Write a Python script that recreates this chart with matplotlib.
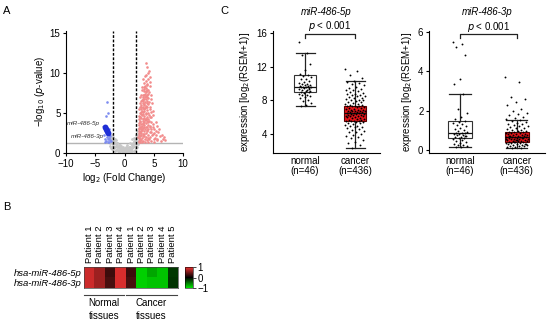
import matplotlib
matplotlib.use("Agg")
import matplotlib.pyplot as plt
from matplotlib.colors import LinearSegmentedColormap
import numpy as np

plt.rcParams['font.family'] = ['Liberation Sans', 'DejaVu Sans']
plt.rcParams['font.size'] = 7

# ---- panel A: volcano plot (log2 FC, -log10 p) ----
red_pts = [(2.4, 1.5), (2.6, 1.8), (2.8, 1.6), (3.0, 1.9), (3.2, 1.5), (3.5, 1.7), (3.8, 1.6), (4.2, 1.8),
           (4.6, 1.5), (5.1, 1.7), (5.6, 1.6), (6.2, 1.5), (2.3, 2.0), (2.5, 2.3), (2.7, 2.6), (2.9, 2.8),
           (3.1, 2.4), (3.3, 2.7), (3.6, 2.5), (3.9, 2.9), (4.3, 2.6), (4.8, 2.4), (5.4, 2.2), (6.0, 2.1),
           (2.5, 3.1), (2.6, 3.2), (2.8, 3.6), (3.0, 3.4), (3.2, 3.8), (3.4, 3.3), (3.7, 3.7), (4.0, 3.5),
           (4.4, 3.2), (5.0, 3.0), (2.7, 4.0), (2.9, 4.4), (3.1, 4.2), (3.3, 4.6), (3.5, 4.1), (3.8, 4.5),
           (4.1, 4.3), (4.5, 3.9), (2.8, 4.9), (3.0, 5.3), (3.2, 5.1), (3.4, 5.5), (3.6, 5.0), (3.9, 5.4),
           (4.2, 4.8), (2.9, 5.8), (3.1, 6.2), (3.3, 6.0), (3.5, 6.4), (3.7, 5.7), (4.0, 6.1), (4.3, 5.5),
           (3.0, 6.6), (3.2, 7.0), (3.4, 6.7), (3.6, 7.1), (3.8, 6.5), (4.1, 6.9), (3.1, 7.3), (3.3, 7.7),
           (3.5, 7.4), (3.7, 7.8), (3.9, 7.2), (4.2, 7.6), (3.3, 8.0), (3.5, 8.4), (3.7, 8.1), (3.9, 8.5),
           (4.1, 7.9), (3.4, 8.7), (3.6, 9.0), (3.8, 8.6), (4.0, 9.2), (3.7, 9.8), (4.0, 10.0), (3.7, 11.2),
           (4.3, 9.5), (6.8, 2.0), (5.9, 3.0), (4.8, 4.8), (2.4, 1.4), (2.6, 2.1), (2.8, 2.2), (3.0, 2.9),
           (3.2, 3.1), (3.4, 3.9), (3.6, 4.3), (3.8, 4.0), (3.0, 4.7), (3.3, 5.3), (3.6, 5.9), (3.8, 6.3),
           (3.2, 6.5), (3.5, 7.0), (3.6, 7.6), (3.9, 7.0), (3.4, 6.1), (3.1, 5.6), (2.9, 5.1), (2.7, 4.5),
           (2.6, 3.9), (2.5, 2.8), (2.4, 2.5), (3.7, 2.0), (4.0, 2.3), (4.4, 2.0), (4.6, 3.0), (4.1, 3.0),
           (3.5, 3.0), (2.9, 3.2), (3.1, 3.6), (3.4, 4.4), (3.7, 4.9), (4.0, 5.0), (3.5, 5.6), (3.2, 4.9),
           (3.9, 3.3), (4.2, 4.0), (2.7, 1.4), (3.3, 2.1), (5.3, 2.8), (4.5, 6.8), (3.0, 7.9), (4.4, 8.4),
           (2.4, 3.5), (2.5, 4.2), (2.6, 5.0), (2.7, 5.8), (2.8, 6.5), (2.9, 7.2), (3.0, 8.3), (2.5, 5.5),
           (2.4, 4.6), (2.6, 6.3), (2.7, 7.0), (4.4, 5.8), (4.6, 4.5), (4.8, 3.6), (5.0, 2.5), (5.2, 1.9),
           (4.7, 6.2), (4.5, 7.2), (4.9, 5.2), (5.3, 3.9), (5.5, 1.8), (5.8, 2.6), (4.3, 8.9), (3.2, 9.3),
           (3.5, 9.6), (4.2, 10.3), (3.9, 10.8), (2.5, 1.9), (2.8, 2.5), (3.1, 2.1), (3.4, 2.4), (3.8, 2.7),
           (4.1, 1.9), (4.7, 2.2), (5.0, 1.4), (4.0, 1.4), (3.5, 1.4), (3.0, 1.35), (3.0, 3.0), (3.3, 3.5),
           (3.6, 3.2), (4.0, 3.9), (4.3, 4.5), (4.5, 5.1), (3.9, 5.8), (4.2, 6.4), (4.0, 7.4), (3.8, 7.9),
           (3.4, 8.2), (3.2, 5.8), (2.9, 6.0), (2.8, 5.5), (3.1, 4.0), (2.8, 3.0), (3.7, 4.2), (4.4, 3.4),
           (3.6, 6.7), (3.3, 7.2), (3.1, 6.8), (2.6, 4.5), (2.4, 3.0), (2.5, 3.7), (4.6, 2.6), (4.9, 3.2),
           (5.6, 3.4), (6.4, 2.3), (6.6, 1.7), (7.0, 1.6)]
gray_pts = [(-2.4, 1.8), (-2.2, 1.2), (-2.0, 0.9), (-1.8, 1.5), (-1.6, 0.7), (-1.5, 1.1), (-1.3, 0.5),
            (-1.2, 0.9), (-1.0, 0.4), (-0.9, 0.7), (-0.7, 0.3), (-0.6, 0.5), (-0.4, 0.2), (-0.3, 0.4),
            (-0.1, 0.1), (0.0, 0.3), (0.2, 0.15), (0.3, 0.4), (0.5, 0.2), (0.6, 0.6), (0.8, 0.35),
            (0.9, 0.8), (1.1, 0.5), (1.2, 1.0), (1.4, 0.7), (1.5, 1.3), (1.7, 0.9), (1.8, 1.6), (2.0, 1.1),
            (2.1, 2.0), (2.2, 0.8), (1.9, 2.3), (1.6, 1.9), (-1.9, 2.0), (-2.1, 0.5), (-1.4, 1.6),
            (-0.8, 1.0), (0.4, 0.8), (1.0, 1.2), (1.3, 1.7), (0.7, 0.1), (-0.5, 0.05), (-1.1, 0.2),
            (1.6, 0.3), (2.3, 1.5), (-2.3, 0.6), (0.1, 0.6), (-0.2, 0.7), (2.4, 2.4), (-2.6, 2.6),
            (1.8, 0.4), (-1.7, 0.3), (0.9, 0.05), (-0.9, 0.1), (-2.2, 2.2), (2.2, 2.7), (-1.5, 0.4),
            (1.3, 0.3), (-0.6, 0.9), (0.5, 1.0), (-1.2, 1.3), (1.7, 1.3), (-2.0, 1.6), (2.0, 0.6),
            (-2.8, 2.9), (-2.7, 2.2), (-2.5, 1.3), (-2.5, 0.9), (-2.3, 1.9), (-2.1, 1.4), (-1.9, 1.1),
            (-1.7, 1.8), (-1.6, 1.2), (-1.4, 0.9), (-1.3, 1.2), (-1.1, 0.7), (-1.0, 1.0), (-0.8, 0.6),
            (-0.7, 0.8), (-0.5, 0.4), (-0.4, 0.6), (-0.2, 0.3), (0.0, 0.1), (0.1, 0.4), (0.3, 0.2),
            (0.4, 0.5), (0.6, 0.3), (0.7, 0.7), (0.9, 0.5), (1.0, 0.8), (1.2, 0.6), (1.3, 1.1), (1.5, 0.9),
            (1.6, 1.5), (1.8, 1.2), (1.9, 1.8), (2.1, 1.4), (2.2, 1.9), (2.3, 1.1), (2.5, 2.0), (2.6, 1.6),
            (2.7, 2.3), (-2.6, 1.9), (-1.8, 0.6), (1.1, 0.2), (-0.3, 0.15), (0.2, 0.7), (-0.1, 0.5)]
blue_pts = [(-3.0, 6.4), (-3.2, 4.6), (-2.9, 5.0), (-2.6, 3.0), (-2.7, 1.9), (-2.9, 1.7), (-3.1, 1.5),
            (-2.5, 1.6), (-2.8, 1.4), (-3.3, 1.8), (-2.4, 2.1), (-3.5, 2.2), (-2.6, 1.35), (-3.0, 2.0),
            (-2.3, 1.5), (-3.4, 1.4)]
mir486_pts = [(-3.4, 3.3), (-3.2, 3.05), (-2.95, 2.75), (-2.75, 2.5)]

fc_cut = 2
p_cut = 1.3

# ---- panel B: heatmap (z-scores) ----
hm_rows = ['hsa-miR-486-5p', 'hsa-miR-486-3p']
hm_cols = ['Patient 1', 'Patient 2', 'Patient 3', 'Patient 4',
           'Patient 1', 'Patient 2', 'Patient 3', 'Patient 4', 'Patient 5']
hm_vals = [[0.85, 0.65, 0.25, 0.9, 0.25, -0.9, -0.72, -0.85, -0.25],
           [0.85, 0.65, 0.3, 0.9, 0.3, -0.9, -0.85, -0.85, -0.22]]

# ---- panel C: expression boxplots ----
groups = ['normal\n(n=46)', 'cancer\n(n=436)']
normal_5p = [15.0, 13.7, 13.4, 12.3, 11.6, 11.2, 11.0, 10.9, 10.8, 10.6, 10.5, 10.3, 10.2, 10.1, 10.0,
             9.9, 9.85, 9.8, 9.75, 9.7, 9.65, 9.6, 9.6, 9.55, 9.5, 9.45, 9.4, 9.3, 9.2, 9.15, 9.1, 9.0,
             8.95, 8.9, 8.8, 8.7, 8.6, 8.5, 8.4, 8.3, 8.1, 7.9, 7.7, 7.5, 7.3, 9.35]
cancer_5p = [11.8, 11.5, 11.0, 10.7, 10.3, 10.2, 10.1, 9.9, 9.8, 9.6, 9.5, 9.4, 9.3, 9.2, 9.1, 9.0, 8.9,
             8.8, 8.8, 8.7, 8.6, 8.5, 8.5, 8.4, 8.3, 8.3, 8.2, 8.1, 8.0, 8.0, 7.9, 7.8, 7.8, 7.7, 7.6,
             7.6, 7.5, 7.5, 7.4, 7.4, 7.3, 7.3, 7.2, 7.2, 7.1, 7.1, 7.0, 7.0, 6.9, 6.9, 6.9, 6.8, 6.8,
             6.7, 6.7, 6.7, 6.6, 6.6, 6.6, 6.5, 6.5, 6.5, 6.4, 6.4, 6.4, 6.3, 6.3, 6.3, 6.2, 6.2, 6.1,
             6.1, 6.0, 6.0, 5.9, 5.9, 5.8, 5.8, 5.7, 5.7, 5.6, 5.6, 5.5, 5.5, 5.4, 5.4, 5.3, 5.3, 5.2,
             5.1, 5.0, 5.0, 4.9, 4.8, 4.7, 4.6, 4.5, 4.4, 4.3, 4.2, 4.0, 3.9, 3.8, 3.6, 3.5, 3.3, 3.1,
             2.9, 2.7, 2.4]
normal_3p = [5.5, 5.4, 5.25, 4.85, 3.6, 3.35, 2.85, 2.1, 1.9, 1.7, 1.6, 1.5, 1.45, 1.4, 1.3, 1.25, 1.2,
             1.1, 1.05, 1.0, 0.95, 0.9, 0.88, 0.85, 0.85, 0.82, 0.8, 0.78, 0.75, 0.7, 0.68, 0.65, 0.62,
             0.6, 0.55, 0.5, 0.45, 0.4, 0.35, 0.3, 0.28, 0.25, 0.2, 0.18, 0.15, 0.72]
cancer_3p = [3.7, 3.45, 2.7, 2.6, 2.45, 2.3, 2.1, 2.0, 1.9, 1.85, 1.8, 1.7, 1.65, 1.6, 1.55, 1.5, 1.45,
             1.4, 1.35, 1.3, 1.25, 1.2, 1.2, 1.15, 1.1, 1.1, 1.05, 1.0, 1.0, 0.98, 0.95, 0.92, 0.9, 0.9,
             0.88, 0.85, 0.85, 0.82, 0.8, 0.8, 0.78, 0.75, 0.75, 0.72, 0.7, 0.7, 0.68, 0.66, 0.65, 0.65,
             0.64, 0.62, 0.6, 0.6, 0.58, 0.56, 0.55, 0.54, 0.52, 0.5, 0.5, 0.48, 0.46, 0.45, 0.44, 0.42,
             0.4, 0.4, 0.38, 0.36, 0.35, 0.33, 0.3, 0.3, 0.28, 0.26, 0.25, 0.22, 0.2, 0.2, 0.18, 0.15,
             0.12, 0.1, 0.3, 0.5, 0.7, 0.6, 0.4, 0.55]
# box stats: (whislo, q1, med, q3, whishi) per group
box_5p = [(7.3, 9.0, 9.6, 11.0, 13.7), (2.4, 5.5, 6.5, 7.4, 10.3)]
box_3p = [(0.15, 0.6, 0.85, 1.5, 2.85), (0.1, 0.4, 0.65, 0.9, 1.55)]

fig = plt.figure(figsize=(5.5, 3.22), dpi=100)

# ---------- A ----------
ax = fig.add_axes([66/550, 1-153/322, 117/550, 122.3/322])
rx, ry = zip(*red_pts)
gx, gy = zip(*gray_pts)
bx, by = zip(*blue_pts)
mx, my = zip(*mir486_pts)
ax.scatter(gx, gy, s=4, color='#c8c8c8', linewidths=0, zorder=2)
ax.scatter(rx, ry, s=3.5, color='#f28c8c', linewidths=0, zorder=2)
ax.scatter(bx, by, s=3.5, color='#7d8cf0', linewidths=0, zorder=2)
ax.scatter(mx, my, s=18, color='#1f2fd6', linewidths=0, zorder=4)
ax.axhline(p_cut, color='#b4b4b4', lw=1, zorder=1)
ax.axvline(-fc_cut, color='black', ls=(0, (2, 1.2)), lw=1, zorder=3)
ax.axvline(fc_cut, color='black', ls=(0, (2, 1.2)), lw=1, zorder=3)
ax.annotate('miR-486-5p', xy=mir486_pts[0], xytext=(-4.2, 3.7), fontsize=4.6, style='italic',
            ha='right', va='center', color='#333333',
            arrowprops=dict(arrowstyle='-', lw=0.4, color='#555555', shrinkA=0, shrinkB=1))
ax.annotate('miR-486-3p', xy=mir486_pts[3], xytext=(-3.5, 2.05), fontsize=4.6, style='italic',
            ha='right', va='center', color='#333333',
            arrowprops=dict(arrowstyle='-', lw=0.4, color='#555555', shrinkA=0, shrinkB=1))
ax.set_xlim(-10, 10)
ax.set_ylim(0, 15.3)
ax.set_xticks([-10, -5, 0, 5, 10])
ax.set_yticks([0, 5, 10, 15])
ax.set_xlabel('log$_2$ (Fold Change)', labelpad=2)
ax.set_ylabel('\u2212log$_{10}$ ($p$-value)', labelpad=2)
ax.spines[['top', 'right']].set_visible(False)
ax.tick_params(length=2.5, width=0.8, pad=1.5)

# ---------- B ----------
cmap = LinearSegmentedColormap.from_list('gkr', ['#00e600', '#000000', '#f03232'])
axh = fig.add_axes([84/550, 1-288/322, 94/550, 21/322])
im = axh.imshow(np.array(hm_vals), cmap=cmap, vmin=-1, vmax=1, aspect='auto')
axh.set_xticks([])
axh.set_yticks(range(len(hm_rows)))
axh.set_yticklabels(hm_rows, style='italic', fontsize=6.8)
axh.tick_params(axis='y', length=0, pad=2)
for s in axh.spines.values():
    s.set_linewidth(0.5)
    s.set_color('#444444')
for i, c in enumerate(hm_cols):
    axh.text(i, -0.85, c, rotation=90, ha='center', va='bottom', fontsize=6.8)
axh.plot([-0.5, 3.3], [2.15, 2.15], color='#444444', lw=0.8, clip_on=False)
axh.plot([3.55, 8.4], [2.15, 2.15], color='#444444', lw=0.8, clip_on=False)
axh.text(1.4, 2.5, 'Normal\ntissues', ha='center', va='top', fontsize=7, linespacing=1.3)
axh.text(5.95, 2.5, 'Cancer\ntissues', ha='center', va='top', fontsize=7, linespacing=1.3)
axh.set_xlim(-0.5, 8.5)
axh.set_ylim(1.5, -0.5)

cax = fig.add_axes([185/550, 1-288/322, 8/550, 21/322])
cb = fig.colorbar(im, cax=cax, ticks=[-1, 0, 1])
cb.ax.set_yticklabels(['\u22121', '0', '1'])
cb.ax.tick_params(length=2, width=0.5, pad=1, labelsize=7)
cb.outline.set_linewidth(0.4)

# ---------- C ----------
def jitter(n, width):
    # deterministic spread of dots across the box
    return (((np.arange(n) * 0.6180339) % 1.0) - 0.5) * 2 * width


def boxpanel(rect, vals, stats, ylim, yticks, title, bracket):
    a = fig.add_axes(rect)
    bstats = []
    for lab, (lo, q1, med, q3, hi) in zip(groups, stats):
        bstats.append(dict(label=lab, whislo=lo, q1=q1, med=med, q3=q3, whishi=hi, fliers=[]))
    bp = a.bxp(bstats, positions=[1, 2], widths=0.43, patch_artist=True, showfliers=False,
               boxprops=dict(linewidth=0.8, edgecolor='#333333'),
               whiskerprops=dict(linewidth=0.9, color='#222222'),
               capprops=dict(linewidth=0.9, color='#222222'),
               medianprops=dict(linewidth=0.9, color='#111111'),
               capwidths=0.38)
    bp['boxes'][0].set_facecolor('white')
    bp['boxes'][1].set_facecolor('#e8141a')
    bp['boxes'][1].set_edgecolor('#5a0000')
    for k, (v, w) in enumerate(zip(vals, [0.13, 0.2])):
        a.scatter(k + 1 + jitter(len(v), w), v, s=1.8, color='black', linewidths=0, zorder=5)
    a.set_xlim(0.36, 2.5)
    a.set_ylim(*ylim)
    a.set_yticks(yticks)
    for t in a.get_xticklabels():
        t.set_linespacing(1.05)
    a.spines[['top', 'right']].set_visible(False)
    a.tick_params(axis='y', length=2.5, width=0.8, pad=1.5)
    a.tick_params(axis='x', length=0, pad=2)
    a.set_ylabel('expression [log$_2$(RSEM+1)]', labelpad=3)
    a.set_title(title, style='italic', fontsize=7, pad=11)
    y0, y1, yt = bracket
    a.plot([1, 1, 2, 2], [y1, y0, y0, y1], color='#222222', lw=0.9, clip_on=False)
    a.text(1.5, yt, '$p$ < 0.001', ha='center', va='center', fontsize=7)
    a.set_ylim(*ylim)
    return a

boxpanel([273/550, 1-153/322, 107/550, 122.3/322], [normal_5p, cancer_5p], box_5p,
         (1.75, 16.3), [4, 8, 12, 16], 'miR-486-5p', (15.85, 15.4, 16.8))
a2 = boxpanel([429/550, 1-153/322, 116/550, 122.3/322], [normal_3p, cancer_3p], box_3p,
              (-0.15, 6.07), [0, 2, 4, 6], 'miR-486-3p', (5.88, 5.68, 6.25))
a2.set_xlim(0.45, 2.5)

# panel letters
fig.text(3/550, 1-11.5/322, 'A', fontsize=8, va='center')
fig.text(3/550, 1-206.5/322, 'B', fontsize=8, va='center')
fig.text(220/550, 1-11.5/322, 'C', fontsize=8, va='center')

fig.savefig('out.png', dpi=100)
